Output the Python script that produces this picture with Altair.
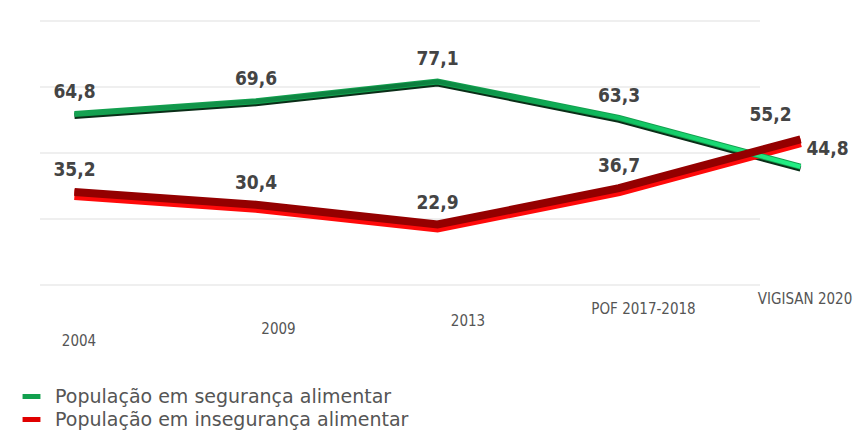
import altair as alt
import pandas as pd

periodos = ["2004", "2009", "2013", "POF 2017-2018", "VIGISAN 2020"]
seguranca = [64.8, 69.6, 77.1, 63.3, 44.8]
inseguranca = [35.2, 30.4, 22.9, 36.7, 55.2]
series = ["População em segurança alimentar", "População em insegurança alimentar"]
grid_vals = [0, 25, 50, 75, 100]

rows = []
for p, v in zip(periodos, seguranca):
    rows.append({"periodo": p, "valor": v, "serie": series[0]})
for p, v in zip(periodos, inseguranca):
    rows.append({"periodo": p, "valor": v, "serie": series[1]})
df = pd.DataFrame(rows)
grid_df = pd.DataFrame({"g": grid_vals})

FONT = "DejaVu Sans Condensed"

lbl_pad = {
    "condition": [
        {"test": "datum.value == '2004'", "value": 48},
        {"test": "datum.value == '2009'", "value": 36},
        {"test": "datum.value == '2013'", "value": 28},
        {"test": "datum.value == 'POF 2017-2018'", "value": 16},
    ],
    "value": 6,
}
lbl_off = {
    "condition": [
        {"test": "datum.value == '2009'", "value": 22},
        {"test": "datum.value == '2013'", "value": 30},
        {"test": "datum.value == 'POF 2017-2018'", "value": 24},
    ],
    "value": 4,
}

x_enc = alt.X(
    "periodo:N",
    sort=periodos,
    scale=alt.Scale(type="point", padding=0.19),
    axis=alt.Axis(
        title=None, domain=False, ticks=False, grid=False, labelAngle=0,
        labelFont=FONT, labelFontSize=15, labelColor="#555555",
        labelPadding=lbl_pad, labelOffset=lbl_off,
    ),
)
y_scale = alt.Scale(domain=[0, 100], nice=False)
y_enc = alt.Y("valor:Q", scale=y_scale, axis=None)

base = alt.Chart(df)

grid = alt.Chart(grid_df).mark_rule(color="#efefef", strokeWidth=2).encode(
    y=alt.Y("g:Q", scale=y_scale, axis=None),
    x=alt.value(0),
    x2=alt.value(720),
)

green_f = alt.datum.serie == series[0]
red_f = alt.datum.serie == series[1]

green_shadow = base.transform_filter(green_f).mark_line(
    color="#0a2e18", strokeWidth=6, yOffset=2
).encode(x=x_enc, y=y_enc)

red_shadow = base.transform_filter(red_f).mark_line(
    color="#ff0a0a", strokeWidth=10, yOffset=3
).encode(x=x_enc, y=y_enc)

main = base.mark_line(strokeWidth=6).encode(
    x=x_enc,
    y=y_enc,
    color=alt.Color(
        "serie:N",
        scale=alt.Scale(domain=series, range=["#12a04e", "#e00000"]),
        legend=alt.Legend(
            title=None, orient="none", legendX=-20, legendY=364,
            labelFont="DejaVu Sans", labelFontSize=19, labelColor="#555555",
            labelLimit=0,
            symbolType="stroke", symbolStrokeWidth=5, symbolSize=320,
            rowPadding=1, labelOffset=12,
        ),
    ),
)

green_top = base.transform_filter(green_f).mark_line(
    strokeWidth=4,
    stroke=alt.Gradient(
        gradient="linear",
        stops=[
            alt.GradientStop(color="#15a352", offset=0),
            alt.GradientStop(color="#0c7a3c", offset=0.45),
            alt.GradientStop(color="#10c060", offset=0.75),
            alt.GradientStop(color="#22f085", offset=1),
        ],
        x1=0, x2=1, y1=0, y2=0,
    ),
).encode(x=x_enc, y=y_enc)

red_top = base.transform_filter(red_f).mark_line(
    color="#940000", strokeWidth=8
).encode(x=x_enc, y=y_enc)

lbl = base.transform_calculate(
    rotulo="replace(format(datum.valor, '.1f'), '.', ',')"
)
txt_kw = dict(font=FONT, fontSize=19, fontWeight="bold", color="#444444", baseline="bottom")

labels_main = lbl.transform_filter(alt.datum.periodo != periodos[-1]).mark_text(
    dy=-12, **txt_kw
).encode(x=x_enc, y=y_enc, text="rotulo:N")

labels_last_green = lbl.transform_filter(
    (alt.datum.periodo == periodos[-1]) & green_f
).mark_text(dy=-8, dx=27, **txt_kw).encode(x=x_enc, y=y_enc, text="rotulo:N")

labels_last_red = lbl.transform_filter(
    (alt.datum.periodo == periodos[-1]) & red_f
).mark_text(dy=-14, dx=-30, **txt_kw).encode(x=x_enc, y=y_enc, text="rotulo:N")

chart = alt.layer(
    grid, green_shadow, red_shadow, main, green_top, red_top,
    labels_main, labels_last_green, labels_last_red,
).properties(
    width=795, height=264,
    autosize=alt.AutoSizeParams(type="none"),
    padding={"left": 32, "top": 13, "right": 23, "bottom": 146},
).configure_view(stroke=None)

chart.save("out.html", embed_options={"renderer": "svg", "actions": False})
